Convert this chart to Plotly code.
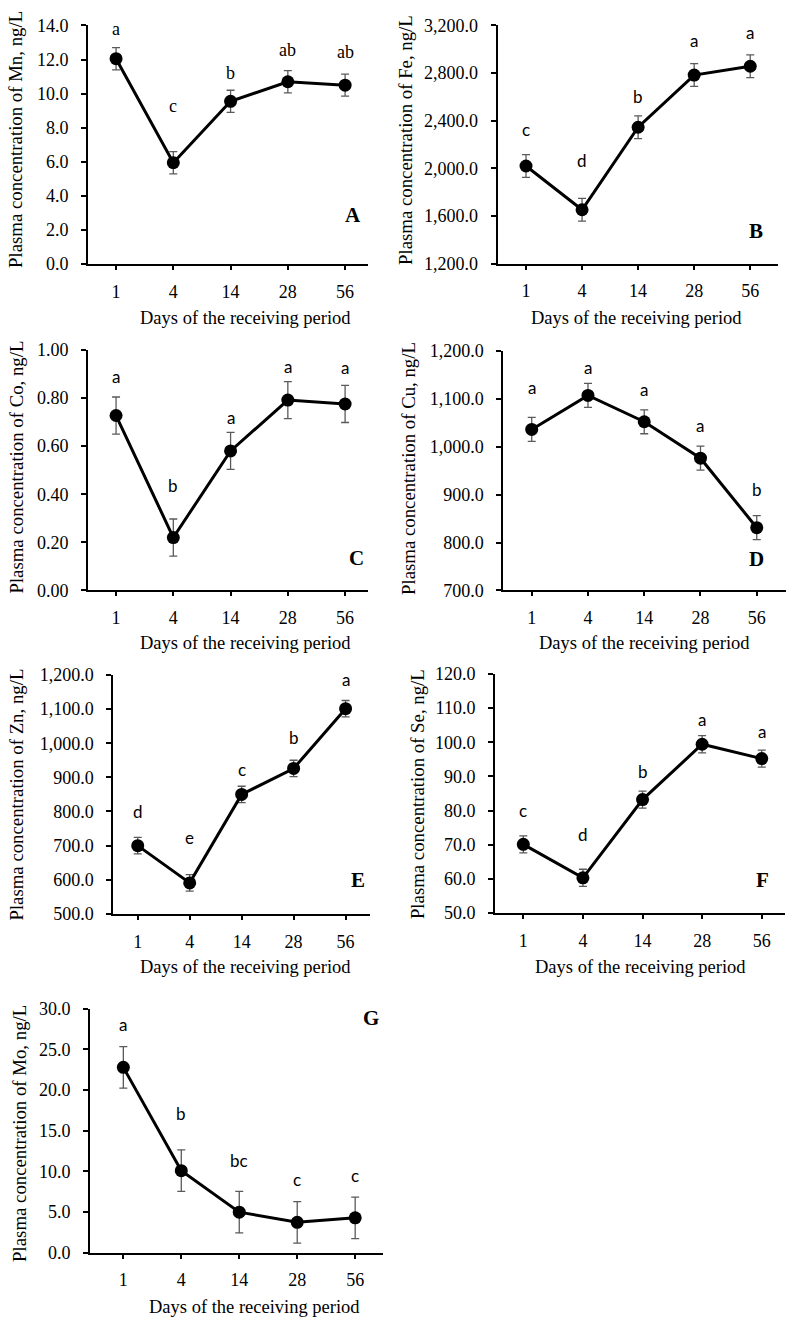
import plotly.graph_objects as go

# ---------------- data ----------------
days = ["1", "4", "14", "28", "56"]

mn = [12.05, 5.95, 9.55, 10.70, 10.50]
mn_err = [0.65, 0.65, 0.65, 0.65, 0.65]
mn_letters = ["a", "c", "b", "ab", "ab"]
mn_letter_y = [13.8, 9.3, 11.2, 12.55, 12.45]

fe = [2021, 1654, 2346, 2784, 2858]
fe_err = [95, 95, 95, 95, 95]
fe_letters = ["c", "d", "b", "a", "a"]
fe_letter_y = [2330, 2070, 2600, 3075, 3140]

co = [0.727, 0.220, 0.580, 0.791, 0.775]
co_err = [0.077, 0.077, 0.077, 0.077, 0.077]
co_letters = ["a", "b", "a", "a", "a"]
co_letter_y = [0.89, 0.435, 0.72, 0.93, 0.925]

cu = [1036, 1107, 1052, 976, 831]
cu_err = [25, 25, 25, 25, 25]
cu_letters = ["a", "a", "a", "a", "b"]
cu_letter_y = [1123, 1166, 1120, 1045, 910]

zn = [700, 591, 850, 926, 1101]
zn_err = [24, 24, 24, 24, 24]
zn_letters = ["d", "e", "c", "b", "a"]
zn_letter_y = [801, 724, 923, 1017, 1186]

se = [70.1, 60.3, 83.2, 99.4, 95.2]
se_err = [2.5, 2.5, 2.5, 2.5, 2.5]
se_letters = ["c", "d", "b", "a", "a"]
se_letter_y = [80.0, 73.0, 91.5, 106.7, 103.2]

mo = [22.8, 10.1, 5.0, 3.75, 4.3]
mo_err = [2.55, 2.55, 2.55, 2.55, 2.55]
mo_letters = ["a", "b", "bc", "c", "c"]
mo_letter_y = [28.1, 17.1, 11.3, 9.0, 9.5]

x_title = "Days of the receiving period"

panels = [
    dict(tag="A", el="Mn", v=mn, e=mn_err, L=mn_letters, Ly=mn_letter_y, yr=[0, 14], dt=2, fmt=".1f"),
    dict(tag="B", el="Fe", v=fe, e=fe_err, L=fe_letters, Ly=fe_letter_y, yr=[1200, 3200], dt=400, fmt=",.1f"),
    dict(tag="C", el="Co", v=co, e=co_err, L=co_letters, Ly=co_letter_y, yr=[0, 1], dt=0.2, fmt=".2f"),
    dict(tag="D", el="Cu", v=cu, e=cu_err, L=cu_letters, Ly=cu_letter_y, yr=[700, 1200], dt=100, fmt=",.1f"),
    dict(tag="E", el="Zn", v=zn, e=zn_err, L=zn_letters, Ly=zn_letter_y, yr=[500, 1200], dt=100, fmt=",.1f"),
    dict(tag="F", el="Se", v=se, e=se_err, L=se_letters, Ly=se_letter_y, yr=[50, 120], dt=10, fmt=".1f"),
    dict(tag="G", el="Mo", v=mo, e=mo_err, L=mo_letters, Ly=mo_letter_y, yr=[0, 30], dt=5, fmt=".1f"),
]

# ---------------- layout (pixel geometry) ----------------
W, H = 800, 1335
geom = {
    "A": dict(x=(88, 368), y=(15.7, 258), xr=(-0.49, 4.40), yt=(15, 132), xt=(245, 313), tag=(353, 208)),
    "B": dict(x=(497.7, 777.7), y=(15.7, 257.7), xr=(-0.505, 4.49), yt=(405, 132), xt=(636, 313), tag=(755.7, 224)),
    "C": dict(x=(88, 368), y=(345, 589.3), xr=(-0.49, 4.40), yt=(16.5, 464), xt=(245, 643), tag=(356.7, 556.7)),
    "D": dict(x=(503.3, 786), y=(346, 589.3), xr=(-0.505, 4.52), yt=(408, 466), xt=(644, 643), tag=(756, 557.3)),
    "E": dict(x=(113.3, 370), y=(675, 917.7), xr=(-0.47, 4.47), yt=(16.5, 797), xt=(245, 972), tag=(358.3, 883.3)),
    "F": dict(x=(495, 785), y=(674, 916.7), xr=(-0.475, 4.39), yt=(417, 796), xt=(640, 972), tag=(762.3, 883.3)),
    "G": dict(x=(90, 383), y=(1014, 1261.7), xr=(-0.575, 4.48), yt=(20, 1141), xt=(255, 1317), tag=(371, 1023.3)),
}

SERIF = "Liberation Serif, Times New Roman, serif"
SANS = "Lato, Carlito, Calibri, sans-serif"

fig = go.Figure()
layout = dict(
    width=W, height=H, margin=dict(l=0, r=0, t=0, b=0),
    paper_bgcolor="white", plot_bgcolor="white", showlegend=False,
    font=dict(family=SERIF, size=18, color="black"),
)
annotations = []

for i, p in enumerate(panels, start=1):
    g = geom[p["tag"]]
    xa = "x" if i == 1 else f"x{i}"
    ya = "y" if i == 1 else f"y{i}"
    fig.add_trace(go.Scatter(
        x=days, y=p["v"], xaxis=xa, yaxis=ya,
        mode="lines+markers",
        line=dict(color="black", width=3),
        marker=dict(color="black", size=13),
        error_y=dict(type="data", array=p["e"], visible=True,
                     color="#5a5a5a", thickness=1.3, width=4),
        cliponaxis=False,
    ))
    layout["xaxis" if i == 1 else f"xaxis{i}"] = dict(
        domain=[g["x"][0] / W, g["x"][1] / W], anchor=ya,
        type="category", categoryarray=days, range=list(g["xr"]),
        showline=True, linecolor="black", linewidth=2,
        ticks="outside", ticklen=4, tickwidth=1.5, tickcolor="black",
        showgrid=False, zeroline=False,
        tickfont=dict(family=SERIF, size=18, color="black"),
        ticklabelstandoff=6,
    )
    layout["yaxis" if i == 1 else f"yaxis{i}"] = dict(
        domain=[1 - g["y"][1] / H, 1 - g["y"][0] / H], anchor=xa,
        range=p["yr"], dtick=p["dt"], tick0=0, tickformat=p["fmt"],
        showline=True, linecolor="black", linewidth=2,
        ticks="outside", ticklen=5, tickwidth=2, tickcolor="black",
        showgrid=False, zeroline=False,
        tickfont=dict(family=SERIF, size=18, color="black"),
        ticklabelstandoff=9,
    )
    # significance letters (x given as category index)
    lfont = dict(family=SERIF if p["tag"] == "A" else SANS,
                 size=18 if p["tag"] == "A" else 17, color="black")
    for k, (lt, ly) in enumerate(zip(p["L"], p["Ly"])):
        annotations.append(dict(x=k, y=ly, xref=xa, yref=ya, text=lt, showarrow=False,
                                font=lfont, xanchor="center", yanchor="middle"))
    # axis titles
    annotations.append(dict(x=g["yt"][0] / W, y=1 - g["yt"][1] / H, xref="paper", yref="paper",
                            text=f"Plasma concentration of {p['el']}, ng/L", textangle=-90,
                            showarrow=False, font=dict(family=SERIF, size=18.8, color="black"),
                            xanchor="center", yanchor="middle"))
    annotations.append(dict(x=g["xt"][0] / W, y=1 - g["xt"][1] / H, xref="paper", yref="paper",
                            text=x_title, showarrow=False,
                            font=dict(family=SERIF, size=18.5, color="black"),
                            xanchor="center", yanchor="middle"))
    # panel tag
    annotations.append(dict(x=g["tag"][0] / W, y=1 - g["tag"][1] / H, xref="paper", yref="paper",
                            text=f"<b>{p['tag']}</b>", showarrow=False,
                            font=dict(family=SERIF, size=21, color="black"),
                            xanchor="center", yanchor="middle"))

layout["annotations"] = annotations
fig.update_layout(**layout)
fig.write_html("out.html")
